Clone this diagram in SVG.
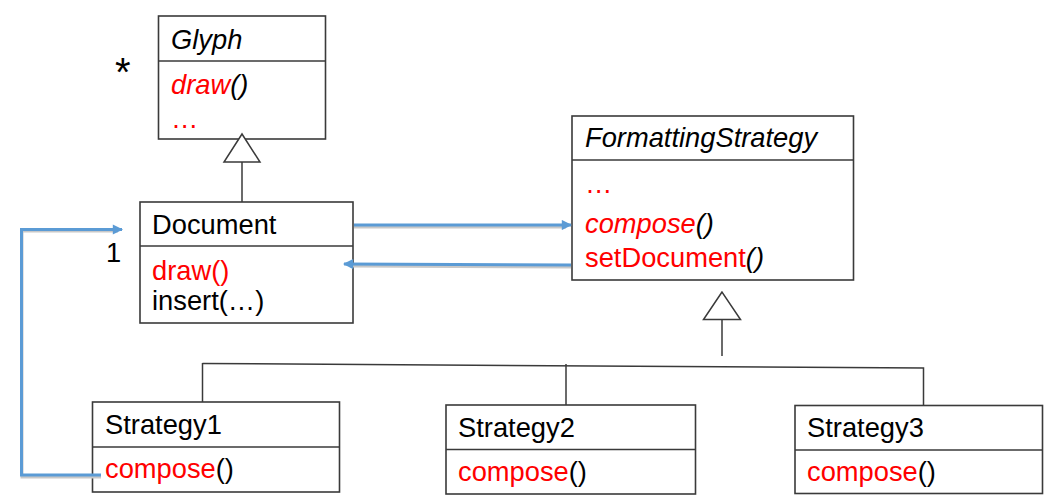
<svg xmlns="http://www.w3.org/2000/svg" width="1057" height="503" viewBox="0 0 1057 503">
<style>
.box{fill:#fff;stroke:#3a3a3a;stroke-width:1.6}
.div{stroke:#3a3a3a;stroke-width:1.6}
.t{font-family:"Liberation Sans",Arial,sans-serif;font-size:27.3px;fill:#000}
.i{font-style:italic}
.r{fill:#ff0000}
.gen{fill:#fff;stroke:#3a3a3a;stroke-width:1.5}
.ln{stroke:#3a3a3a;stroke-width:1.5;fill:none}
.blue{stroke:#5b9bd5;stroke-width:3;fill:none}
.sh{stroke:#c8c8c8;stroke-width:3;fill:none}
</style>
<defs>
<marker id="ah" viewBox="0 0 10 10" refX="9" refY="5" markerWidth="4" markerHeight="3.4" orient="auto" markerUnits="strokeWidth">
<path d="M0,0 L10,5 L0,10 Z" fill="#5b9bd5"/>
</marker>
</defs>

<g id="glyph">
<rect class="box" x="158.5" y="16" width="167" height="123"/>
<line class="div" x1="158.5" y1="61" x2="325.5" y2="61"/>
<text class="t i" x="171" y="49">Glyph</text>
<text class="t i" x="171" y="94"><tspan class="r">draw</tspan>()</text>
<text class="t r" x="171" y="128">…</text>
<text class="t" x="115" y="85.5" style="font-size:40px">*</text>
</g>

<g id="document">
<rect class="box" x="140" y="202" width="213" height="121"/>
<line class="div" x1="140" y1="246" x2="353" y2="246"/>
<text class="t" x="152" y="234">Document</text>
<text class="t r" x="152" y="280">draw()</text>
<text class="t" x="152" y="310">insert(…)</text>
<text class="t" x="106" y="262">1</text>
</g>

<g id="formattingstrategy">
<rect class="box" x="572" y="116" width="281.5" height="164"/>
<line class="div" x1="572" y1="160" x2="853.5" y2="160"/>
<text class="t i" x="585" y="147">FormattingStrategy</text>
<text class="t r" x="585" y="193">…</text>
<text class="t i" x="585" y="233"><tspan class="r">compose</tspan>()</text>
<text class="t" x="585" y="267"><tspan class="r">setDocument</tspan><tspan class="i">()</tspan></text>
</g>

<g id="strategy1">
<rect class="box" x="92.5" y="402" width="247" height="90"/>
<line class="div" x1="92.5" y1="447" x2="339.5" y2="447"/>
<text class="t" x="105" y="434">Strategy1</text>
<text class="t" x="105" y="478"><tspan class="r">compose</tspan>()</text>
</g>

<g id="strategy2">
<rect class="box" x="446" y="405" width="249.5" height="89"/>
<line class="div" x1="446" y1="449.5" x2="695.5" y2="449.5"/>
<text class="t" x="458" y="437">Strategy2</text>
<text class="t" x="458" y="481"><tspan class="r">compose</tspan>()</text>
</g>

<g id="strategy3">
<rect class="box" x="795" y="405.5" width="247.5" height="88"/>
<line class="div" x1="795" y1="450" x2="1042.5" y2="450"/>
<text class="t" x="807" y="437">Strategy3</text>
<text class="t" x="807" y="481"><tspan class="r">compose</tspan>()</text>
</g>

<g id="connectors">
<line class="ln" x1="242" y1="162" x2="242" y2="202"/>
<polygon class="gen" points="242,134 224,162 260,162"/>
<line class="ln" x1="722" y1="319" x2="722" y2="356"/>
<polygon class="gen" points="722,292 703.5,319.5 740.5,319.5"/>
<polyline class="ln" points="202.5,363.5 923.5,368 923.5,405.5"/>
<line class="ln" x1="202.5" y1="363" x2="202.5" y2="402"/>
<line class="ln" x1="566" y1="364" x2="566" y2="405"/>
<polyline class="sh" points="101,477 22,477 22,231 118,231"/>
<line class="sh" x1="354" y1="227" x2="566" y2="227"/>
<line class="sh" x1="571" y1="267" x2="350" y2="266"/>
<polyline class="blue" points="101,475 21.5,475 21.5,229.5 122,229.5" marker-end="url(#ah)"/>
<line class="blue" x1="354" y1="225" x2="571" y2="225" marker-end="url(#ah)"/>
<line class="blue" x1="571" y1="265" x2="344" y2="264" marker-end="url(#ah)"/>
</g>
</svg>
